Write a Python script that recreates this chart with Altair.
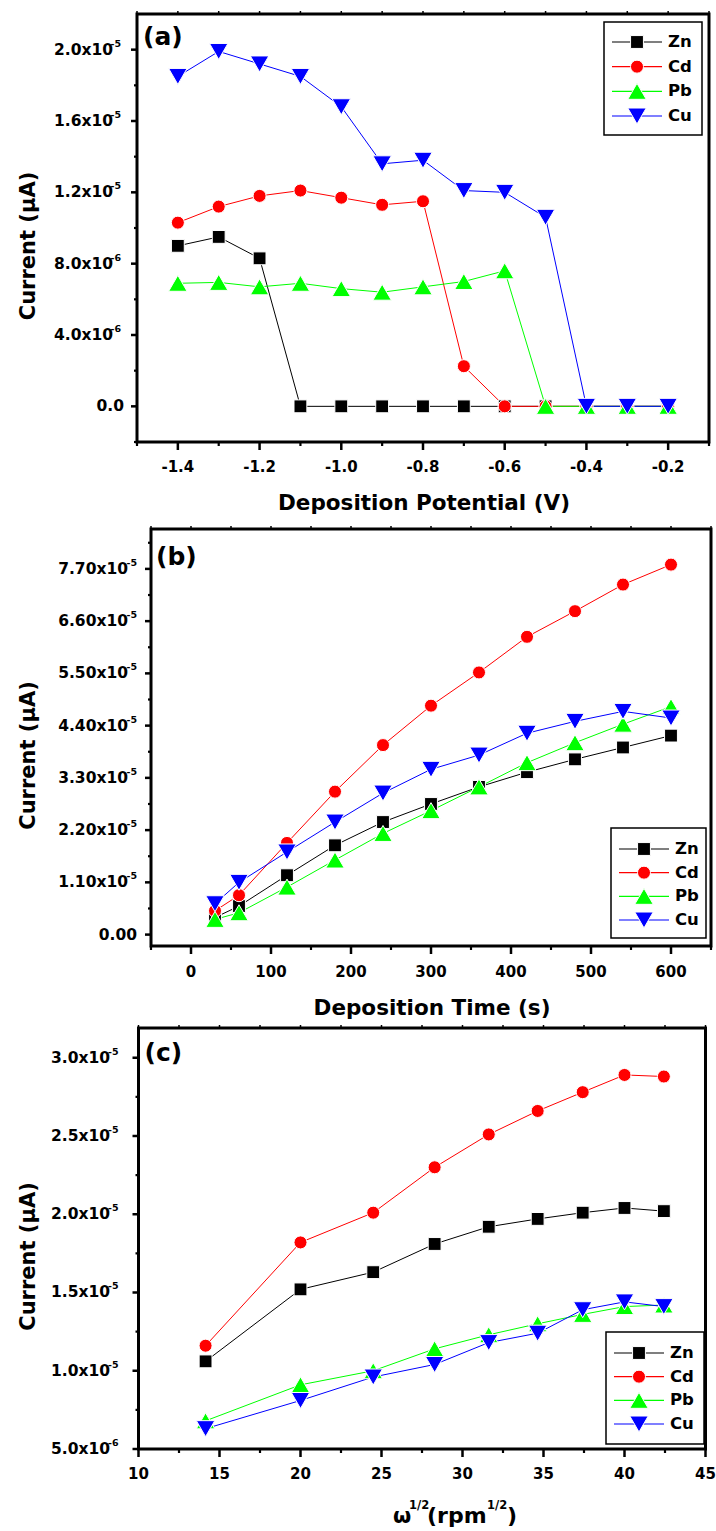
import altair as alt
import pandas as pd

FONT = "DejaVu Sans"
SERIES = ["Zn", "Cd", "Pb", "Cu"]
COLORS = ["#000000", "#ff0000", "#00ff00", "#0000ff"]
SHAPES = ["square", "circle", "triangle-up", "triangle-down"]
SIZES = [165, 170, 340, 340]

# ---------------- panel (a): deposition potential ----------------
A_X = [-1.4, -1.3, -1.2, -1.1, -1.0, -0.9, -0.8, -0.7, -0.6, -0.5, -0.4, -0.3, -0.2]
A_ZN = [9.0e-6, 9.5e-6, 8.3e-6, 0, 0, 0, 0, 0, 0, 0, 0, 0, 0]
A_CD = [1.03e-5, 1.12e-5, 1.18e-5, 1.21e-5, 1.17e-5, 1.13e-5, 1.15e-5, 2.25e-6, 0, 0, 0, 0, 0]
A_PB = [6.9e-6, 6.95e-6, 6.7e-6, 6.9e-6, 6.6e-6, 6.4e-6, 6.7e-6, 7.0e-6, 7.6e-6, 0, 0, 0, 0]
A_CU = [1.85e-5, 1.99e-5, 1.92e-5, 1.85e-5, 1.68e-5, 1.36e-5, 1.38e-5, 1.21e-5, 1.20e-5, 1.06e-5, 0, 0, 0]
A_XMAJ = [-1.4, -1.2, -1.0, -0.8, -0.6, -0.4, -0.2]
A_XLAB = ["-1.4", "-1.2", "-1.0", "-0.8", "-0.6", "-0.4", "-0.2"]
A_XMIN = [-1.5, -1.3, -1.1, -0.9, -0.7, -0.5, -0.3, -0.1]
A_YMAJ = [0, 4e-6, 8e-6, 1.2e-5, 1.6e-5, 2.0e-5]
A_YMAN = ["0.0", "4.0x10", "8.0x10", "1.2x10", "1.6x10", "2.0x10"]
A_YEXP = ["", "-6", "-6", "-5", "-5", "-5"]
A_YMIN = [-2e-6, 2e-6, 6e-6, 1.0e-5, 1.4e-5, 1.8e-5]

# ---------------- panel (b): deposition time ----------------
B_X = [30, 60, 120, 180, 240, 300, 360, 420, 480, 540, 600]
B_ZN = [3.6e-6, 6.0e-6, 1.25e-5, 1.88e-5, 2.37e-5, 2.75e-5, 3.11e-5, 3.42e-5, 3.69e-5, 3.94e-5, 4.19e-5]
B_CD = [5.0e-6, 8.3e-6, 1.93e-5, 3.01e-5, 3.99e-5, 4.82e-5, 5.52e-5, 6.27e-5, 6.81e-5, 7.37e-5, 7.79e-5]
B_PB = [3.2e-6, 4.6e-6, 1.0e-5, 1.57e-5, 2.13e-5, 2.61e-5, 3.11e-5, 3.62e-5, 4.04e-5, 4.43e-5, 4.8e-5]
B_CU = [6.5e-6, 1.1e-5, 1.74e-5, 2.37e-5, 2.98e-5, 3.48e-5, 3.78e-5, 4.24e-5, 4.49e-5, 4.70e-5, 4.56e-5]
B_XMAJ = [0, 100, 200, 300, 400, 500, 600]
B_XLAB = ["0", "100", "200", "300", "400", "500", "600"]
B_XMIN = [-50, 50, 150, 250, 350, 450, 550, 650]
B_YMAJ = [0, 1.1e-5, 2.2e-5, 3.3e-5, 4.4e-5, 5.5e-5, 6.6e-5, 7.7e-5]
B_YMAN = ["0.00", "1.10x10", "2.20x10", "3.30x10", "4.40x10", "5.50x10", "6.60x10", "7.70x10"]
B_YEXP = ["", "-5", "-5", "-5", "-5", "-5", "-5", "-5"]
B_YMIN = [5.5e-6, 1.65e-5, 2.75e-5, 3.85e-5, 4.95e-5, 6.05e-5, 7.15e-5, 8.25e-5]

# ---------------- panel (c): rotation rate ----------------
C_X = [14.14, 20.0, 24.49, 28.28, 31.62, 34.64, 37.42, 40.0, 42.43]
C_ZN = [1.06e-5, 1.52e-5, 1.63e-5, 1.81e-5, 1.92e-5, 1.97e-5, 2.01e-5, 2.04e-5, 2.02e-5]
C_CD = [1.16e-5, 1.82e-5, 2.01e-5, 2.30e-5, 2.51e-5, 2.66e-5, 2.78e-5, 2.89e-5, 2.88e-5]
C_PB = [6.8e-6, 9.1e-6, 1.0e-5, 1.14e-5, 1.23e-5, 1.30e-5, 1.36e-5, 1.41e-5, 1.42e-5]
C_CU = [6.3e-6, 8.1e-6, 9.6e-6, 1.04e-5, 1.18e-5, 1.24e-5, 1.39e-5, 1.44e-5, 1.41e-5]
C_XMAJ = [10, 15, 20, 25, 30, 35, 40, 45]
C_XLAB = ["10", "15", "20", "25", "30", "35", "40", "45"]
C_XMIN = [12.5, 17.5, 22.5, 27.5, 32.5, 37.5, 42.5]
C_YMAJ = [5e-6, 1.0e-5, 1.5e-5, 2.0e-5, 2.5e-5, 3.0e-5]
C_YMAN = ["5.0x10", "1.0x10", "1.5x10", "2.0x10", "2.5x10", "3.0x10"]
C_YEXP = ["-6", "-5", "-5", "-5", "-5", "-5"]
C_YMIN = [7.5e-6, 1.25e-5, 1.75e-5, 2.25e-5, 2.75e-5]


def long_df(xv, vals):
    rows = []
    for name, ys in zip(SERIES, vals):
        for x, y in zip(xv, ys):
            rows.append({"s": name, "x": x, "y": y})
    return pd.DataFrame(rows)


color = alt.Color("s:N", scale=alt.Scale(domain=SERIES, range=COLORS), legend=None)
shape = alt.Shape("s:N", scale=alt.Scale(domain=SERIES, range=SHAPES), legend=None)
size = alt.Size("s:N", scale=alt.Scale(type="ordinal", domain=SERIES, range=SIZES), legend=None)
ONE = pd.DataFrame({"d": [0]})


def txt(**kw):
    base = dict(font=FONT, fontWeight="bold", color="black")
    base.update(kw)
    return alt.Chart(ONE).mark_text(**base)


def panel(c):
    w, h = c["w"], c["h"]
    r0, r1 = c["xrange"]
    xs = alt.Scale(domain=c["xdom"], range=[r0, r1], nice=False, zero=False)
    ys = alt.Scale(domain=c["ydom"], nice=False, zero=False)
    X = lambda f: alt.X(f, scale=xs, axis=None)
    Y = lambda f: alt.Y(f, scale=ys, axis=None)

    df = long_df(c["x"], c["vals"])
    layers = []
    # invisible rectangle that fixes the panel's layout bounds
    layers.append(alt.Chart(ONE).mark_rect(opacity=0).encode(
        x=alt.value(-137), x2=alt.value(579), y=alt.value(c["btop"]), y2=alt.value(c["bbot"])))
    # frame
    layers.append(alt.Chart(ONE).mark_rect(fillOpacity=0, stroke="black", strokeWidth=3).encode(
        x=alt.value(r0), x2=alt.value(r1), y=alt.value(0), y2=alt.value(h)))
    # y ticks
    ymaj = pd.DataFrame({"v": c["ymaj"], "m": c["yman"], "e": c["yexp"]})
    layers.append(alt.Chart(ymaj).mark_rule(color="black", strokeWidth=2.5).encode(
        y=Y("v:Q"), x=alt.value(r0), x2=alt.value(r0 - 6)))
    layers.append(alt.Chart(pd.DataFrame({"v": c["ymin"]})).mark_rule(color="black", strokeWidth=2.2).encode(
        y=Y("v:Q"), x=alt.value(r0), x2=alt.value(r0 - 3)))
    # x ticks (bottom and top)
    xmaj = pd.DataFrame({"v": c["xmaj"], "t": c["xlab"]})
    xmin = pd.DataFrame({"v": c["xmin"]})
    layers.append(alt.Chart(xmaj).mark_rule(color="black", strokeWidth=2.5).encode(
        x=X("v:Q"), y=alt.value(h), y2=alt.value(h + 8)))
    layers.append(alt.Chart(xmin).mark_rule(color="black", strokeWidth=2.2).encode(
        x=X("v:Q"), y=alt.value(h), y2=alt.value(h + 4)))
    layers.append(alt.Chart(pd.DataFrame({"v": c["xmaj"] + c["xmin"]})).mark_rule(
        color="black", strokeWidth=1.5).encode(x=X("v:Q"), y=alt.value(0), y2=alt.value(-3)))
    # tick labels
    layers.append(alt.Chart(ymaj).transform_filter("datum.e != ''").mark_text(
        font=FONT, fontWeight="bold", fontSize=15.5, align="right", baseline="middle",
        color="black").encode(y=Y("v:Q"), x=alt.value(r0 + c["mdx"]), text="m:N"))
    layers.append(alt.Chart(ymaj).transform_filter("datum.e != ''").mark_text(
        font=FONT, fontWeight="bold", fontSize=9.5, align="right", baseline="middle",
        dy=-6, color="black").encode(y=Y("v:Q"), x=alt.value(r0 + c["edx"]), text="e:N"))
    layers.append(alt.Chart(ymaj).transform_filter("datum.e == ''").mark_text(
        font=FONT, fontWeight="bold", fontSize=15.5, align="right", baseline="middle",
        color="black").encode(y=Y("v:Q"), x=alt.value(r0 + c["zdx"]), text="m:N"))
    layers.append(alt.Chart(xmaj).mark_text(
        font=FONT, fontWeight="bold", fontSize=15, align="center", baseline="alphabetic",
        color="black").encode(x=X("v:Q"), y=alt.value(h + c["xly"]), text="t:N"))
    # data
    layers.append(alt.Chart(df).mark_line(strokeWidth=1).encode(
        x=X("x:Q"), y=Y("y:Q"), color=color, detail="s:N"))
    layers.append(alt.Chart(df).mark_point(filled=True, opacity=1, stroke="white",
                                           strokeWidth=1).encode(
        x=X("x:Q"), y=Y("y:Q"), color=color, shape=shape, size=size))
    # texts
    layers.append(txt(fontSize=25, align="left", baseline="alphabetic").encode(
        x=alt.value(r0 + c["tag"][0]), y=alt.value(c["tag"][1]), text=alt.value(c["tagtext"])))
    layers.append(txt(fontSize=21, align="center", baseline="middle", angle=270).encode(
        x=alt.value(-108), y=alt.value(h / 2 + 18), text=alt.value("Current (μA)")))
    for (t, fs, xx, yy) in c["xtitle"]:
        layers.append(txt(fontSize=fs, align=c.get("xtalign", "center"), baseline="alphabetic").encode(
            x=alt.value(xx), y=alt.value(yy), text=alt.value(t)))
    main = alt.layer(*layers)

    # legend
    ldf = pd.DataFrame({"s": SERIES})
    bx1, bx2, by1, by2 = c["lbox"]
    ly = alt.Y("s:N", scale=alt.Scale(type="point", domain=SERIES, range=c["lrows"], padding=0), axis=None)
    lg = alt.layer(
        alt.Chart(ONE).mark_rect(fill="white", stroke="black", strokeWidth=1.5).encode(
            x=alt.value(bx1), x2=alt.value(bx2), y=alt.value(by1), y2=alt.value(by2)),
        alt.Chart(ldf).mark_rule(strokeWidth=1.2).encode(
            x=alt.value(bx1 + 8), x2=alt.value(bx1 + 58), y=ly, color=color),
        alt.Chart(ldf).mark_point(filled=True, opacity=1, stroke="white", strokeWidth=1).encode(
            x=alt.value(bx1 + 33), y=ly, color=color, shape=shape, size=size),
        alt.Chart(ldf).mark_text(font=FONT, fontWeight="bold", fontSize=16.5, align="left",
                                 baseline="middle", color="black").encode(
            x=alt.value(bx1 + 64), y=ly, text="s:N"),
    )
    return alt.layer(main, lg).resolve_scale(y="independent").properties(width=w, height=h)


pa = panel(dict(
    w=572, h=428, xrange=(0, 572), xdom=[-1.5, -0.1], ydom=[-2e-6, 2.2e-5],
    x=A_X, vals=[A_ZN, A_CD, A_PB, A_CU],
    xmaj=A_XMAJ, xlab=A_XLAB, xmin=A_XMIN, ymaj=A_YMAJ, yman=A_YMAN, yexp=A_YEXP, ymin=A_YMIN,
    mdx=-24, edx=-16, zdx=-13, xly=30, btop=-14, bbot=502,
    tag=(6, 31), tagtext="(a)",
    xtitle=[("Deposition Potential (V)", 21.5, 287, 428 + 68)],
    lbox=(467, 565, 8, 121), lrows=[28, 102],
))

pb = panel(dict(
    w=574, h=417, xrange=(14, 574), xdom=[-50, 650], ydom=[-2.4e-6, 8.54e-5],
    x=B_X, vals=[B_ZN, B_CD, B_PB, B_CU],
    xmaj=B_XMAJ, xlab=B_XLAB, xmin=B_XMIN, ymaj=B_YMAJ, yman=B_YMAN, yexp=B_YEXP, ymin=B_YMIN,
    mdx=-23, edx=-14, zdx=-14, xly=31, btop=-13, bbot=492,
    tag=(5, 36), tagtext="(b)",
    xtitle=[("Deposition Time (s)", 21.5, 295, 417 + 69)],
    lbox=(474, 569, 299, 409), lrows=[320, 391],
))

pc = panel(dict(
    w=569, h=421, xrange=(1.5, 568.5), xdom=[10, 45], ydom=[5e-6, 3.19e-5],
    x=C_X, vals=[C_ZN, C_CD, C_PB, C_CU],
    xmaj=C_XMAJ, xlab=C_XLAB, xmin=C_XMIN, ymaj=C_YMAJ, yman=C_YMAN, yexp=C_YEXP, ymin=C_YMIN,
    mdx=-28.5, edx=-20, zdx=-20, xly=30, btop=-7, bbot=500,
    tag=(6, 33), tagtext="(c)",
    xtalign="left",
    xtitle=[("ω", 21, 256, 495), ("1/2", 11.5, 272, 481), ("(rpm", 22, 290, 495),
            ("1/2", 11.5, 350, 481), (")", 22, 370, 495)],
    lbox=(469, 567, 304, 416), lrows=[325, 396],
))

chart = alt.vconcat(pa, pb, pc, spacing=0).properties(padding=0).configure_view(stroke=None)
chart.save("out.html", embed_options={"renderer": "svg", "actions": False})
